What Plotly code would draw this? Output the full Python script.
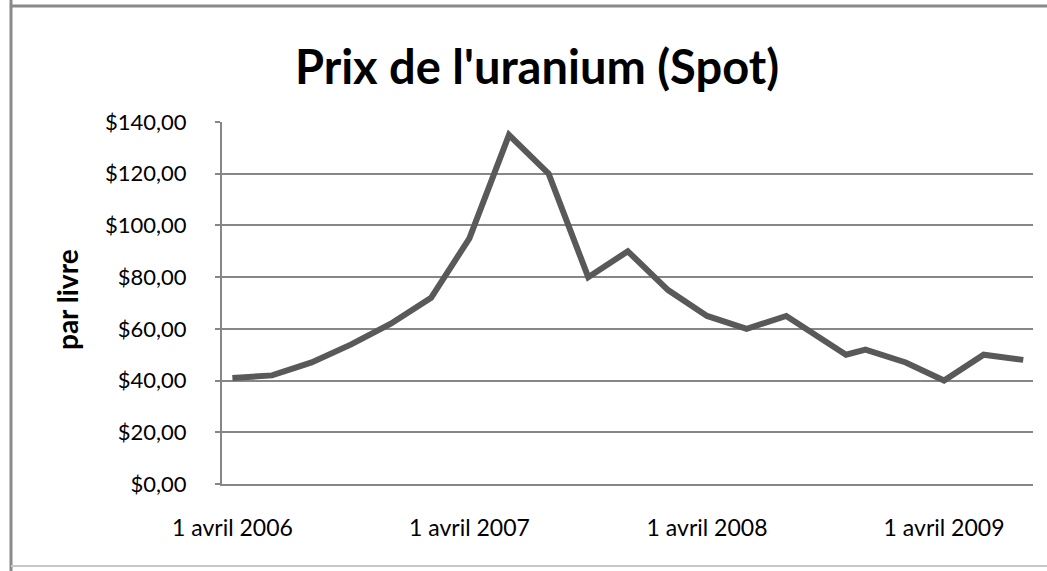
import plotly.graph_objects as go

# ---- data ----
dates = ["2006-04-01", "2006-06-01", "2006-08-01", "2006-10-01", "2006-12-01",
         "2007-02-01", "2007-04-01", "2007-06-01", "2007-08-01", "2007-10-01",
         "2007-12-01", "2008-02-01", "2008-04-01", "2008-06-01", "2008-08-01",
         "2008-11-01", "2008-12-01", "2009-02-01", "2009-04-01", "2009-06-01",
         "2009-08-01"]
prices = [41, 42, 47, 54, 62, 72, 95, 135, 120, 80, 90, 75, 65, 60, 65,
          50, 52, 47, 40, 50, 48]

y_tickvals = [0, 20, 40, 60, 80, 100, 120, 140]
y_ticktext = ["$0,00", "$20,00", "$40,00", "$60,00", "$80,00", "$100,00", "$120,00", "$140,00"]
x_tickvals = ["2006-04-01", "2007-04-01", "2008-04-01", "2009-04-01"]
x_ticktext = ["1 avril 2006", "1 avril 2007", "1 avril 2008", "1 avril 2009"]

FONT = "Lato"
GRID = "#868686"

fig = go.Figure()
fig.add_trace(go.Scatter(x=dates, y=prices, mode="lines",
                         line=dict(color="#595959", width=6),
                         hoverinfo="skip", showlegend=False))

W, H = 1047, 571
L, R, T, B = 222, 1033, 122, 484
pw, ph = R - L, B - T

def px(x):
    return (x - L) / pw

def py(y):
    return (B - y) / ph

fig.update_layout(
    width=W, height=H,
    margin=dict(l=L, r=W - R, t=T, b=H - B, autoexpand=False),
    paper_bgcolor="white", plot_bgcolor="white",
    title=dict(text="<b>Prix de l'uranium (Spot)</b>", x=537 / W, xref="container",
               xanchor="center", y=1 - 68 / H, yref="container", yanchor="middle",
               font=dict(family=FONT, size=47, color="black")),
    xaxis=dict(type="date", range=["2006-03-16", "2009-08-16"],
               tickvals=x_tickvals, ticktext=x_ticktext, showgrid=False,
               showline=True, linecolor=GRID, linewidth=2, ticks="",
               ticklabelstandoff=22,
               tickfont=dict(family=FONT, size=23, color="black"), zeroline=False),
    yaxis=dict(range=[0, 140], tickvals=y_tickvals, ticktext=y_ticktext,
               showgrid=True, gridcolor=GRID, gridwidth=2,
               showline=True, linecolor=GRID, linewidth=2,
               ticks="outside", ticklen=5, tickcolor=GRID, tickwidth=2,
               ticklabelstandoff=24,
               tickfont=dict(family=FONT, size=22, color="black"), zeroline=False),
    annotations=[dict(text="<b>par livre</b>", x=px(67), y=py(300), xref="paper", yref="paper",
                      textangle=-90, showarrow=False, xanchor="center", yanchor="middle",
                      font=dict(family=FONT, size=28, color="black"))],
    shapes=[
        dict(type="line", xref="paper", yref="paper", x0=px(11), x1=px(11), y0=py(0), y1=py(571),
             line=dict(color="#8a8a8a", width=3)),
        dict(type="line", xref="paper", yref="paper", x0=px(11), x1=px(1050), y0=py(6), y1=py(6),
             line=dict(color="#8a8a8a", width=3)),
        dict(type="line", xref="paper", yref="paper", x0=px(11), x1=px(1050), y0=py(566), y1=py(566),
             line=dict(color="#c8c8c8", width=2)),
    ],
)

fig.write_html("out.html", config={"displayModeBar": False},
               post_script="document.body.style.margin='0';document.body.style.overflow='hidden';")
